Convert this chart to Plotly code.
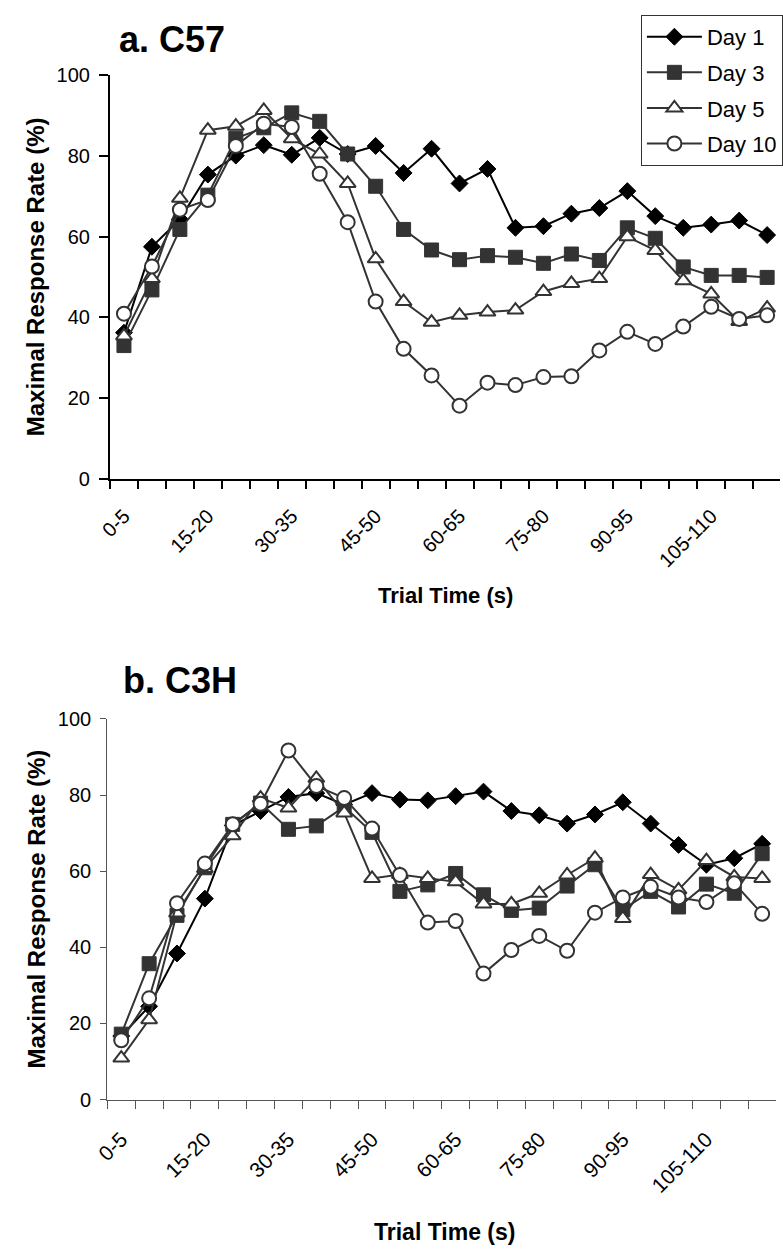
import plotly.graph_objects as go

# ---------------- data ----------------
categories = ["0-5", "5-10", "10-15", "15-20", "20-25", "25-30", "30-35", "35-40",
              "40-45", "45-50", "50-55", "55-60", "60-65", "65-70", "70-75", "75-80",
              "80-85", "85-90", "90-95", "95-100", "100-105", "105-110", "110-115", "115-120"]
tick_labels = ["0-5", "15-20", "30-35", "45-50", "60-65", "75-80", "90-95", "105-110"]
y_ticks = [0, 20, 40, 60, 80, 100]
series_names = ["Day 1", "Day 3", "Day 5", "Day 10"]

c57_day1 = [36.2, 57.5, 64.3, 75.4, 80.1, 82.7, 80.3, 84.5, 80.5, 82.5, 75.8, 81.8,
            73.2, 76.8, 62.2, 62.6, 65.7, 67.1, 71.3, 65.1, 62.2, 63.0, 64.0, 60.4]
c57_day3 = [33.0, 46.8, 61.8, 70.3, 84.4, 87.0, 90.7, 88.6, 80.5, 72.5, 61.8, 56.7,
            54.3, 55.3, 54.9, 53.4, 55.7, 54.1, 62.2, 59.6, 52.5, 50.4, 50.4, 49.9]
c57_day5 = [35.4, 49.6, 69.5, 86.4, 87.4, 91.3, 84.3, 80.5, 73.2, 54.5, 43.9, 38.8,
            40.5, 41.3, 41.8, 46.4, 48.4, 49.6, 60.0, 56.6, 49.1, 45.8, 39.0, 42.3]
c57_day10 = [40.9, 52.6, 66.7, 69.1, 82.5, 88.0, 87.2, 75.6, 63.6, 43.9, 32.2, 25.6,
             18.1, 23.8, 23.2, 25.2, 25.4, 31.8, 36.4, 33.4, 37.7, 42.6, 39.6, 40.5]

c3h_day1 = [16.7, 24.5, 38.4, 52.8, 72.0, 75.8, 79.5, 80.5, 77.5, 80.5, 78.8, 78.6,
            79.7, 80.9, 75.8, 74.7, 72.5, 74.9, 78.1, 72.5, 66.9, 61.7, 63.4, 67.2]
c3h_day3 = [17.2, 35.7, 48.4, 60.9, 72.3, 77.9, 71.0, 71.9, 76.9, 70.2, 54.7, 56.4,
            59.4, 53.8, 49.7, 50.3, 56.1, 61.7, 49.9, 54.7, 50.6, 56.6, 54.2, 64.6]
c3h_day5 = [10.9, 21.0, 49.0, 60.7, 69.3, 79.2, 76.6, 84.4, 75.3, 58.1, 59.1, 58.1,
            57.2, 51.4, 51.4, 54.2, 59.0, 63.4, 47.6, 59.1, 55.1, 62.8, 58.5, 58.1]
c3h_day10 = [15.6, 26.6, 51.6, 62.0, 72.3, 77.7, 91.7, 82.4, 79.2, 71.2, 59.0, 46.5,
             46.9, 33.1, 39.3, 43.0, 39.1, 49.1, 53.1, 55.9, 53.1, 51.9, 56.8, 48.8]

# ---------------- styles ----------------
W, H = 783, 1258
FONT = "Arial, 'Liberation Sans', Helvetica, sans-serif"
styles = [
    dict(line=dict(color="#000000", width=2),
         marker=dict(symbol="diamond", size=13, color="#000000",
                     line=dict(color="#000000", width=1))),
    dict(line=dict(color="#333333", width=2),
         marker=dict(symbol="square", size=14, color="#333333",
                     line=dict(color="#333333", width=1))),
    dict(line=dict(color="#333333", width=2),
         marker=dict(symbol="triangle-up", size=14, color="#ffffff",
                     line=dict(color="#333333", width=2))),
    dict(line=dict(color="#333333", width=2),
         marker=dict(symbol="circle", size=14, color="#ffffff",
                     line=dict(color="#333333", width=2))),
]

fig = go.Figure()

top_series = [c57_day1, c57_day3, c57_day5, c57_day10]
bot_series = [c3h_day1, c3h_day3, c3h_day5, c3h_day10]

for name, vals, st in zip(series_names, top_series, styles):
    fig.add_trace(go.Scatter(x=categories, y=vals, name=name, mode="lines+markers",
                             xaxis="x", yaxis="y", legendgroup=name, showlegend=True,
                             cliponaxis=False, **st))
for name, vals, st in zip(series_names, bot_series, styles):
    fig.add_trace(go.Scatter(x=categories, y=vals, name=name, mode="lines+markers",
                             xaxis="x2", yaxis="y2", legendgroup=name, showlegend=False,
                             cliponaxis=False, **st))

ticktext = [c if c in tick_labels else "" for c in categories]


def py(v):
    return 1 - v / H


def xaxis_cfg(x0, x1, rng, color, lw, anchor, fs, standoff):
    return dict(domain=[x0 / W, x1 / W], type="category", categoryorder="array",
                categoryarray=categories, range=rng, tickmode="array",
                tickvals=categories, ticktext=ticktext, tickson="boundaries",
                ticks="outside", ticklen=8, tickwidth=lw, tickcolor=color,
                showline=True, linecolor=color, linewidth=lw, showgrid=False,
                zeroline=False, tickangle=-45, anchor=anchor,
                ticklabelstandoff=standoff,
                tickfont=dict(family=FONT, size=fs, color="#000000"))


def yaxis_cfg(y0, y1, color, lw, anchor, tl):
    return dict(domain=[py(y0), py(y1)], range=[0, 100], tickmode="array",
                tickvals=y_ticks, ticks="outside", ticklen=tl,
                tickwidth=lw, tickcolor=color, showline=True, linecolor=color,
                linewidth=lw, showgrid=False, zeroline=False, anchor=anchor,
                ticklabelstandoff=5,
                tickfont=dict(family=FONT, size=20, color="#000000"))


fig.update_layout(
    width=W, height=H, margin=dict(l=0, r=0, t=0, b=0),
    paper_bgcolor="white", plot_bgcolor="white",
    xaxis=xaxis_cfg(99, 783, [-0.5, 23.46], "#000000", 2, "y", 20, 16),
    yaxis=yaxis_cfg(476, 65.5, "#000000", 2, "x", 9),
    xaxis2=xaxis_cfg(96.3, 779, [-0.5, 23.5], "#555555", 1.3, "y2", 21, 18),
    yaxis2=yaxis_cfg(1108, 720.5, "#555555", 1.3, "x2", 6),
    showlegend=True,
    legend=dict(x=641 / W, y=py(4), xanchor="left", yanchor="top",
                bgcolor="white", bordercolor="#333333", borderwidth=1,
                font=dict(family=FONT, size=22, color="#000000"),
                itemwidth=55, tracegroupgap=4, traceorder="grouped"),
)

annotations = [
    dict(text="<b>a. C57</b>", x=106 / W, y=py(29), xanchor="left", font=dict(size=36)),
    dict(text="<b>b. C3H</b>", x=110 / W, y=py(681), xanchor="left", font=dict(size=36)),
    dict(text="<b>Maximal Response Rate (%)</b>", x=23 / W, y=py(270.5), textangle=-90,
         font=dict(size=24)),
    dict(text="<b>Maximal Response Rate (%)</b>", x=23 / W, y=py(914), textangle=-90,
         font=dict(size=24)),
    dict(text="<b>Trial Time (s)</b>", x=442 / W, y=py(595), font=dict(size=22)),
    dict(text="<b>Trial Time (s)</b>", x=440 / W, y=py(1243), font=dict(size=23)),
]
for a in annotations:
    a.setdefault("xanchor", "center")
    a.update(xref="paper", yref="paper", showarrow=False, yanchor="middle")
    a["font"].update(family=FONT, color="#000000")
fig.update_layout(annotations=annotations)

fig.write_html("out.html")
